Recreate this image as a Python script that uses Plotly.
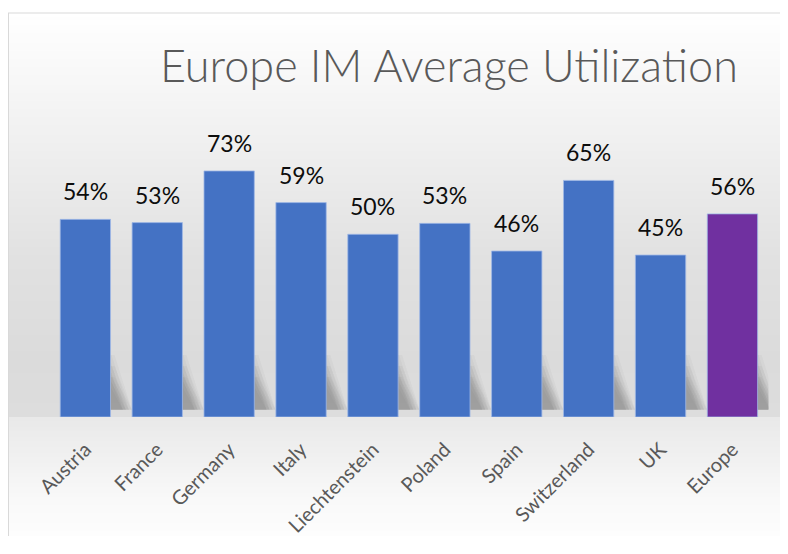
import plotly.graph_objects as go

categories = ["Austria", "France", "Germany", "Italy", "Liechtenstein",
              "Poland", "Spain", "Switzerland", "UK", "Europe"]
values = [0.543, 0.534, 0.676, 0.589, 0.502, 0.532, 0.456, 0.650, 0.445, 0.558]
labels = ["54%", "53%", "73%", "59%", "50%", "53%", "46%", "65%", "45%", "56%"]
colors = ["#4472C4"] * 9 + ["#7030A0"]
title_text = "Europe IM Average Utilization"

# the page body has an 8px margin; work in page coordinates and convert
OFF = 8
W, H = 788 - 2 * OFF, 554 - 2 * OFF - 10
def fx(px):
    return (px - OFF) / W
def fy(py):
    return 1 - (py - OFF) / H

plot_l, plot_r = 49.4, 768.4
plot_b, plot_t = 417.0, 125.8
ymax = 0.8
xs = list(range(len(categories)))

fig = go.Figure()

# background gradient bands (page y -> gray level)
stops = [(13, 255), (130, 241), (260, 225), (360, 219), (416, 221),
         (418, 233), (450, 239), (500, 249), (554, 255)]
def gray(y):
    for (y0, g0), (y1, g1) in zip(stops[:-1], stops[1:]):
        if y0 <= y <= y1:
            return g0 + (g1 - g0) * (y - y0) / (y1 - y0)
    return 255
shapes = []
step = 2
y = 13
y_end = OFF + H
while y < y_end:
    g = int(round(gray(y + step / 2)))
    shapes.append(dict(type="rect", xref="paper", yref="paper", layer="below",
                       x0=fx(8), x1=1.0, y0=max(fy(min(y + step, y_end)) - 0.0005, 0),
                       y1=fy(y), line=dict(width=0),
                       fillcolor=f"rgb({g},{g},{g})"))
    y += step
shapes.append(dict(type="line", xref="paper", yref="paper", layer="below",
                   x0=fx(8.5), x1=fx(8.5), y0=0, y1=fy(13),
                   line=dict(color="#d9d9d9", width=1)))
shapes.append(dict(type="line", xref="paper", yref="paper", layer="below",
                   x0=fx(8), x1=1, y0=fy(13), y1=fy(13),
                   line=dict(color="#d9d9d9", width=1)))

# soft diagonal shadows behind bars (shapes below traces)
px_x = (plot_r - plot_l) / len(categories)
px_y = (plot_b - plot_t) / ymax
half = 0.35
skew = 0.24
for s_px in (-5, -2, 1, 4):
    s = s_px / px_x
    for top_k in (0.11, 0.14, 0.17):
        for i, v in zip(xs, values):
            top = min(top_k, v)
            bot = 0.02
            pts = [(i - half + 0.05, top), (i + half + s, top),
                   (i + half + skew + s, bot), (i - half + skew, bot)]
            path = "M " + " L ".join(f"{a},{b}" for a, b in pts) + " Z"
            shapes.append(dict(type="path", xref="x", yref="y", layer="below",
                               path=path, line=dict(width=0),
                               fillcolor="rgba(60,60,60,0.035)"))
# faint contact shadow just below each bar
for i in xs:
    shapes.append(dict(type="rect", xref="x", yref="y", layer="below",
                       x0=i - half, x1=i + half + 0.03, y0=-3.5 / px_y, y1=0,
                       line=dict(width=0), fillcolor="rgba(0,0,0,0.05)"))

fig.add_trace(go.Bar(x=xs, y=values, marker=dict(color=colors,
                     line=dict(color="rgba(160,185,230,0.8)", width=1)),
                     width=0.70, showlegend=False, hoverinfo="skip"))

annotations = []
for i, v, t in zip(xs, values, labels):
    annotations.append(dict(x=i, y=v, xref="x", yref="y", text=t, showarrow=False,
                            yanchor="bottom", yshift=12,
                            font=dict(family="Lato", size=23, color="#0d0d0d")))
annotations.append(dict(x=fx(449), y=fy(65), xref="paper", yref="paper",
                        text=title_text, showarrow=False, xanchor="center",
                        yanchor="middle",
                        font=dict(family="Lato", size=45, color="#595959", weight=300)))

fig.update_layout(
    width=W, height=H, margin=dict(l=0, r=0, t=0, b=0),
    paper_bgcolor="white", plot_bgcolor="rgba(0,0,0,0)",
    shapes=shapes, annotations=annotations, bargap=0.3,
    xaxis=dict(domain=[fx(plot_l), min(fx(plot_r), 1.0)],
               range=[-0.5, len(categories) - 0.5],
               tickmode="array", tickvals=xs, ticktext=categories,
               tickangle=-45, showgrid=False, zeroline=False, showline=False,
               ticks="", ticklabelstandoff=16, automargin=False,
               tickfont=dict(family="Lato", size=20, color="#595959")),
    yaxis=dict(domain=[fy(plot_b), fy(plot_t)], range=[0, ymax],
               visible=False, showgrid=False, zeroline=False, automargin=False),
    font=dict(family="Lato"),
)

fig.write_html("out.html")
